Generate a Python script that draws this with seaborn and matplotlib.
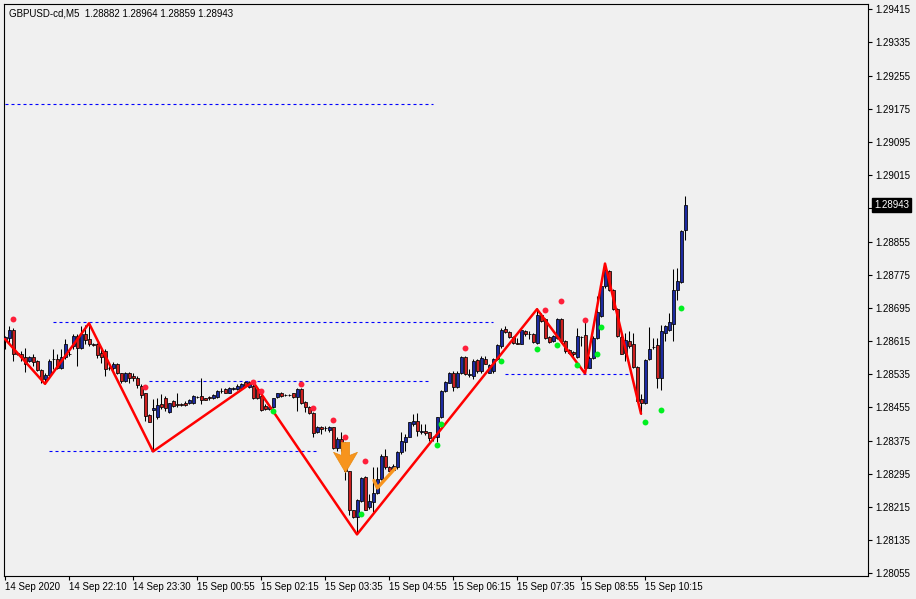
import numpy as np
import pandas as pd
import matplotlib
matplotlib.use("Agg")
import matplotlib.pyplot as plt
import seaborn as sns
from matplotlib.path import Path
from matplotlib import transforms

# prices are stored as points (1e-5) above BASE
BASE = 1.28000

time_labels = ["14 Sep 2020", "14 Sep 22:10", "14 Sep 23:30", "15 Sep 00:55",
               "15 Sep 02:15", "15 Sep 03:35", "15 Sep 04:55", "15 Sep 06:15",
               "15 Sep 07:35", "15 Sep 08:55", "15 Sep 10:15"]
label_bars = [0, 16, 32, 48, 64, 80, 96, 112, 128, 144, 160]

opens = [615, 623, 641, 587, 585, 577, 567, 577, 567, 545, 523, 533, 573, 573, 549, 577, 585, 603, 627, 599,
         631, 619, 609, 607, 587, 591, 549, 549, 559, 539, 519, 537, 531, 527, 507, 489, 437, 449, 431, 463,
         477, 443, 471, 463, 463, 467, 465, 465, 481, 483, 477, 481, 477, 481, 495, 499, 491, 499, 499, 503,
         517, 505, 507, 499, 483, 459, 451, 455, 481, 491, 485, 485, 489, 481, 499, 469, 457, 441, 395, 407,
         405, 401, 407, 357, 379, 363, 301, 207, 191, 229, 287, 215, 227, 249, 283, 339, 311, 305, 311, 347,
         371, 385, 415, 423, 397, 399, 395, 383, 383, 431, 495, 515, 539, 505, 539, 577, 533, 531, 569, 543,
         573, 539, 543, 571, 603, 645, 637, 625, 611, 609, 639, 633, 631, 611, 677, 669, 625, 615, 623, 669,
         615, 593, 589, 577, 625, 629, 551, 575, 623, 675, 747, 785, 739, 693, 625, 587, 615, 609, 553, 475,
         465, 571, 601, 605, 525, 635, 643, 657, 739, 757, 882]
highs = [627, 651, 647, 589, 591, 599, 579, 583, 569, 547, 539, 571, 595, 583, 595, 619, 591, 631, 631, 651,
         655, 658, 611, 611, 595, 595, 555, 565, 563, 539, 541, 541, 539, 531, 511, 491, 439, 475, 479, 487,
         483, 467, 473, 491, 467, 471, 475, 485, 483, 527, 479, 483, 487, 497, 501, 503, 505, 505, 511, 515,
         519, 519, 519, 503, 487, 463, 459, 479, 491, 493, 487, 487, 491, 503, 503, 471, 459, 443, 411, 411,
         411, 411, 409, 383, 395, 371, 303, 209, 235, 287, 289, 247, 311, 311, 343, 355, 313, 319, 351, 395,
         391, 421, 439, 441, 415, 415, 397, 387, 433, 497, 519, 541, 543, 543, 579, 579, 547, 571, 571, 579,
         579, 561, 575, 609, 647, 651, 639, 627, 623, 643, 643, 639, 635, 694, 683, 671, 627, 629, 671, 671,
         617, 595, 591, 647, 627, 663, 579, 627, 723, 751, 803, 787, 741, 695, 631, 635, 639, 635, 555, 487,
         571, 649, 623, 623, 655, 655, 683, 789, 791, 883, 964]
lows = [595, 611, 567, 581, 567, 541, 565, 555, 543, 515, 511, 527, 547, 547, 547, 571, 579, 595, 555, 595,
        607, 603, 603, 575, 563, 531, 545, 545, 535, 515, 517, 515, 519, 501, 479, 423, 419, 349, 427, 451,
        447, 441, 457, 455, 459, 459, 463, 463, 479, 463, 473, 474, 475, 479, 489, 489, 489, 497, 497, 501,
        505, 503, 475, 475, 447, 449, 449, 453, 479, 481, 483, 483, 479, 447, 463, 443, 439, 383, 393, 391,
        399, 397, 355, 351, 351, 279, 195, 189, 149, 227, 207, 211, 203, 247, 279, 307, 301, 301, 307, 343,
        351, 383, 411, 387, 391, 389, 375, 375, 371, 429, 493, 513, 495, 503, 535, 533, 529, 523, 539, 539,
        559, 537, 539, 569, 599, 635, 623, 609, 607, 607, 627, 619, 611, 609, 661, 621, 611, 613, 619, 611,
        587, 583, 579, 575, 603, 537, 549, 571, 619, 673, 743, 735, 690, 625, 583, 567, 599, 551, 469, 439,
        463, 569, 597, 503, 497, 615, 639, 615, 715, 755, 859]
closes = [625, 643, 585, 583, 577, 559, 577, 565, 545, 523, 533, 567, 573, 549, 577, 607, 585, 627, 599, 631,
          617, 607, 605, 581, 577, 547, 549, 561, 537, 519, 539, 527, 525, 509, 485, 435, 421, 453, 461, 455,
          453, 465, 459, 461, 461, 461, 473, 483, 481, 473, 474, 477, 485, 495, 495, 491, 501, 501, 507, 511,
          507, 517, 479, 479, 449, 451, 455, 477, 489, 483, 485, 485, 481, 499, 467, 457, 441, 393, 407, 403,
          405, 407, 357, 379, 357, 303, 207, 191, 233, 285, 209, 229, 249, 283, 339, 311, 303, 315, 347, 373,
          385, 419, 423, 399, 399, 393, 381, 383, 431, 495, 517, 539, 505, 539, 577, 535, 535, 567, 543, 575,
          561, 557, 573, 605, 643, 637, 625, 611, 609, 641, 631, 633, 613, 677, 663, 623, 613, 627, 669, 615,
          591, 587, 583, 627, 625, 551, 575, 623, 685, 747, 787, 739, 693, 627, 585, 617, 603, 553, 471, 467,
          569, 597, 601, 525, 639, 651, 661, 739, 759, 881, 943]

# zigzag vertices
zz_bars = [0, 10, 21, 37, 62, 88, 133, 145, 150, 159]
zz_pts = [620, 512, 658, 349, 517, 149, 692, 537, 802, 440]

# dotted support / resistance levels
level_pts = [1186, 661, 518, 349, 535]
level_from = [0, 12, 36, 11, 125]
level_to = [107, 122, 106, 78, 156]

# indicator dots
red_bars = [2, 35, 62, 64, 74, 77, 82, 85, 86, 90, 115, 135, 139, 145]
red_pts = [668, 505, 517, 495, 511, 454, 425, 385, 334, 325, 598, 691, 711, 665]
green_bars = [67, 89, 108, 109, 124, 133, 138, 143, 148, 149, 160, 164, 169]
green_pts = [447, 199, 365, 415, 567, 595, 605, 557, 583, 648, 420, 449, 694]

# sell arrow and check mark
arrow_bar, arrow_pts = 85, 335
check_bars = [92.25, 93.1, 97.5]
check_pts = [279, 261, 308]


def px(points):
    return BASE + np.asarray(points, dtype=float) * 1e-5


df = pd.DataFrame({"bar": np.arange(len(closes)), "open": px(opens), "high": px(highs),
                   "low": px(lows), "close": px(closes)})
df["bull"] = df["close"] >= df["open"]

sns.set_style("ticks")
plt.rcParams["font.family"] = ["Liberation Sans", "DejaVu Sans"]
bg = "#f0f0f0"

fig = plt.figure(figsize=(9.16, 5.99), dpi=100, facecolor=bg)
ax = fig.add_axes([4 / 916, 23 / 599, 864 / 916, 572 / 599])
ax.set_facecolor(bg)

# levels
for p, a, b in zip(level_pts, level_from, level_to):
    ax.plot([a, b], [px(p), px(p)], color="#0000ff", lw=0.8, ls=(0, (2.7, 2.7)), zorder=1)

# candles
ax.vlines(df["bar"], df["low"], df["high"], color="black", lw=0.75, zorder=2)
body_lo = np.minimum(df["open"], df["close"])
body_h = (df["close"] - df["open"]).abs()
colors = np.where(df["bull"], "#1c2aa0", "#cc1f1f")
ax.bar(df["bar"], body_h, bottom=body_lo, width=0.75, color=colors,
       edgecolor="black", linewidth=0.55, zorder=3)

# zigzag
sns.lineplot(x=zz_bars, y=px(zz_pts), estimator=None, sort=False, color="#ff0000",
             lw=1.8, ax=ax, zorder=4)

# dots
sns.scatterplot(x=red_bars, y=px(red_pts), color="#ff1f3a", s=18, linewidth=0, ax=ax, zorder=5)
sns.scatterplot(x=green_bars, y=px(green_pts), color="#00f020", s=18, linewidth=0, ax=ax, zorder=5)

# sell arrow
arrow = Path([(-4, 14.5), (4, 14.5), (4, 2), (11.5, 5), (0, -14.5), (-11.5, 5), (-4, 2), (-4, 14.5)])
ax.scatter([arrow_bar], [px(arrow_pts)], marker=arrow, s=470, color="#f7941d",
           edgecolor="#e88a10", linewidth=0.5, zorder=6)
ax.plot(check_bars, px(check_pts), color="#f7941d", lw=2.4, solid_capstyle="round", zorder=6)

ax.set_xlim(-0.25, 215.75)
ax.set_ylim(1.280487, 1.294278)

# axes cosmetics
for s in ax.spines.values():
    s.set_color("black")
    s.set_linewidth(0.8)
ax.yaxis.tick_right()
yt = np.round(np.arange(1.28055, 1.29416, 0.0008), 5)
ax.set_yticks(yt)
ax.set_yticklabels(["" if abs(v - 1.28935) < 1e-7 else f"{v:.5f}" for v in yt])
ax.tick_params(axis="y", right=True, left=False, length=3, width=0.8, pad=2,
               labelsize=7, colors="black")
ax.set_xticks(label_bars)
ax.set_xticklabels(time_labels, ha="left")
ax.tick_params(axis="x", length=3, width=0.8, pad=1.5, labelsize=7, colors="black")
ax.set_xlabel("")
ax.set_ylabel("")

# current price box
trans = transforms.blended_transform_factory(ax.transAxes, ax.transData)
ax.text(1.007, px(closes[-1]), f"{px(closes[-1]):.5f}", transform=trans, fontsize=7,
        color="white", va="center", ha="left",
        bbox=dict(boxstyle="square,pad=0.2", fc="black", ec="black"), zorder=10, clip_on=False)

# header
fig.text(9 / 916, 1 - 13 / 599,
         f"GBPUSD-cd,M5  {px(opens[-1]):.5f} {px(highs[-1]):.5f} {px(lows[-1]):.5f} {px(closes[-1]):.5f}",
         fontsize=7, va="center", ha="left", color="black")

fig.savefig("out.png", dpi=100, facecolor=bg)
